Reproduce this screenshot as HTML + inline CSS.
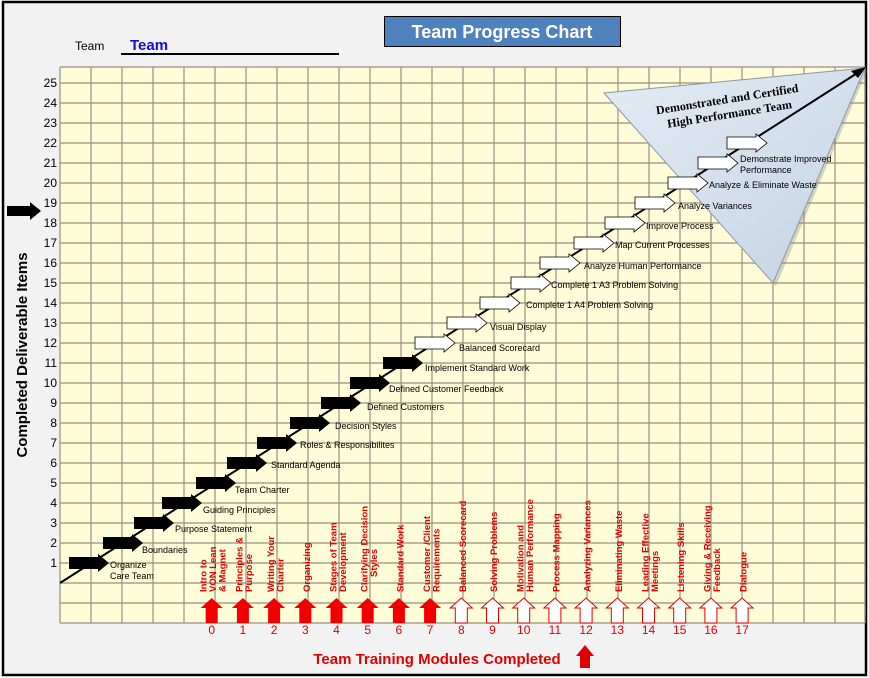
<!DOCTYPE html>
<html><head><meta charset="utf-8"><style>
html,body{margin:0;padding:0;background:#fff;}
svg{display:block;font-family:"Liberation Sans",Arial,sans-serif;}
</style></head><body>
<svg width="869" height="678" viewBox="0 0 869 678" xmlns="http://www.w3.org/2000/svg">
<defs>
<linearGradient id="tg" x1="0" y1="0" x2="1" y2="1">
<stop offset="0" stop-color="#e4ecf4"/><stop offset="1" stop-color="#c3d3e3"/>
</linearGradient>
</defs>
<rect x="0" y="0" width="869" height="678" fill="#fff"/>
<rect x="3" y="2" width="863" height="673" fill="#f2f2f2" stroke="#000" stroke-width="2.5"/>
<!-- grid -->
<rect x="60" y="67" width="805" height="556" fill="#fffcd8"/>
<g stroke="#999080" stroke-width="1.2" id="grid"></g>
<!-- title -->
<rect x="384.5" y="16.5" width="236" height="30" fill="#4f81bd" stroke="#000" stroke-width="1"/>
<text x="502" y="38" text-anchor="middle" font-size="18" font-weight="bold" fill="#fff">Team Progress Chart</text>
<text x="75" y="50" font-size="12" fill="#000">Team</text>
<text x="130" y="50" font-size="15" font-weight="bold" fill="#1010d0">Team</text>
<line x1="121" y1="54" x2="339" y2="54" stroke="#000" stroke-width="2"/>
<!-- y axis title -->
<text transform="translate(27,355) rotate(-90)" text-anchor="middle" font-size="15" font-weight="bold" fill="#000">Completed Deliverable Items</text>
<polygon points="7,206 30,206 30,202 41,211 30,220 30,216 7,216" fill="#000"/>
<g id="ylab" font-size="12" fill="#000" text-anchor="end"></g>
<!-- triangle -->
<polygon points="607,96 867,71 776,286" fill="#888" opacity="0.35"/>
<polygon points="604,93 865,68 773,283" fill="url(#tg)" stroke="#8a98a8" stroke-width="1"/>
<text transform="translate(729,111) rotate(-9)" text-anchor="middle" font-family="Liberation Serif,serif" font-size="12" font-weight="bold" fill="#000"><tspan x="0" y="-8">Demonstrated and Certified</tspan><tspan x="0" y="7">High Performance Team</tspan></text>
<!-- diagonal line -->
<line x1="60" y1="583" x2="862" y2="70" stroke="#000" stroke-width="2"/>
<polygon points="866,67 851,71 858,78" fill="#000"/>
<g id="steps"></g>
<g id="mods"></g>
<text x="437" y="664" text-anchor="middle" font-size="15" font-weight="bold" fill="#e00000">Team Training Modules Completed</text>
<polygon points="580,668 590,668 590,656 594,656 585,645 576,656 580,656" fill="#e00000"/>
</svg>
<script>
var NS="http://www.w3.org/2000/svg";
function el(t,a,p,txt){var e=document.createElementNS(NS,t);for(var k in a)e.setAttribute(k,a[k]);if(txt!=null)e.textContent=txt;(p||document.querySelector('svg')).appendChild(e);return e;}
var g=document.getElementById('grid');
for(var i=0;i<=26;i++){var x=60+i*31;if(x>865)x=865;el('line',{x1:x,y1:67,x2:x,y2:623},g);}
el('line',{x1:865,y1:67,x2:865,y2:623},g);
el('line',{x1:60,y1:67,x2:865,y2:67},g);
for(var j=0;j<=27;j++){var y=83+j*20;el('line',{x1:60,y1:y,x2:865,y2:y},g);}
var yl=document.getElementById('ylab');
for(var n=1;n<=25;n++){el('text',{x:57,y:563-(n-1)*20+4},yl,String(n));}
var lefts=[69,103,134,162,196,227,257,290,321,350,383,415,447,480,511,540,574,605,635,668,698,727];
var labs=[["Organize","Care Team"],["Boundaries"],["Purpose Statement"],["Guiding Principles"],["Team Charter"],["Standard Agenda"],["Roles & Responsibilites"],["Decision Styles"],["Defined Customers"],["Defined Customer Feedback"],["Implement Standard Work"],["Balanced Scorecard"],["Visual Display"],["Complete 1 A4 Problem Solving"],["Complete 1 A3 Problem Solving"],["Analyze Human Performance"],["Map Current Processes"],["Improve Process"],["Analyze Variances"],["Analyze & Eliminate Waste"],["Demonstrate Improved","Performance"],null];
var lx=[110,142,175,203,235,271,300,335,367,389,425,459,490,526,551,584,615,646,678,709,740];
var ly=[564,549,528,509,489,464,444,425,406,388,367,347,326,304,284,265,244,225,205,184,158];
var st=document.getElementById('steps');
for(var i=0;i<22;i++){var L=lefts[i],C=563-i*20;
var pts=[[L,C-6],[L+29,C-6],[L+29,C-9],[L+40,C],[L+29,C+9],[L+29,C+6],[L,C+6]].map(function(p){return p.join(',')}).join(' ');
var blk=i<11;
el('polygon',{points:pts,fill:blk?'#000':'#fff',stroke:'#000','stroke-width':blk?0:0.8},st);
if(labs[i]){for(var k=0;k<labs[i].length;k++)el('text',{x:lx[i],y:ly[i]+4+k*11,'font-size':'9',fill:'#000'},st,labs[i][k]);}
}
var mods=[["Intro to","VON Lean","& Magnet"],["Principles &","Purpose"],["Writing Your","Charter"],["Organizing"],["Stages of Team","Development"],["Clarifying Decision","Styles"],["Standard Work"],["Customer /Client","Requirements"],["Balanced Scorecard"],["Solving Problems"],["Motivation and","Human Performance"],["Process Mapping"],["Analyzing Variances"],["Eliminating Waste"],["Leading Effective","Meetings"],["Listening Skills"],["Giving & Receiving","Feedback"],["Dialogue"]];
var mg=document.getElementById('mods');
for(var i=0;i<18;i++){var X=211.7+i*31.2;var f=i<8;
var pts=[[X-6,623],[X-6,608],[X-11,608],[X,598],[X+11,608],[X+6,608],[X+6,623]].map(function(p){return p.join(',')}).join(' ');
el('polygon',{points:pts,fill:f?'#f00000':'#fff',stroke:f?'none':'#e00000','stroke-width':1},mg);
el('text',{x:X,y:634,'text-anchor':'middle','font-size':'12',fill:'#e00000'},mg,String(i));
var ls=mods[i],n=ls.length;
for(var k=0;k<n;k++){var cx=X+(k-(n-1)/2)*9.5+1;var by=592;var anc='start';
if(i==5&&k==1){by=563;anc='middle';}
var t=el('text',{transform:'translate('+(cx+3.5)+','+by+') rotate(-90)','font-size':'9.5','font-weight':'bold',fill:'#e00000','text-anchor':anc},mg,ls[k]);}
}
</script>
</body></html>
